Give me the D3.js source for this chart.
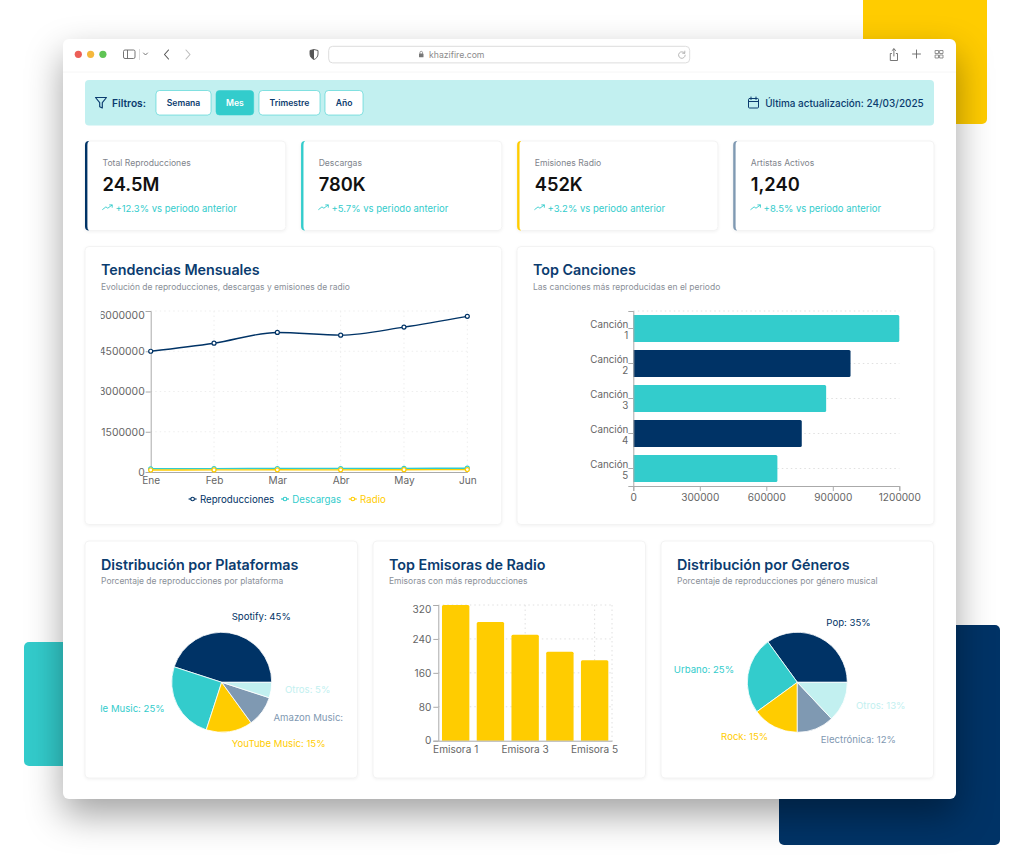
<!DOCTYPE html>
<html lang="es">
<head>
<meta charset="utf-8">
<title>Dashboard</title>
<script src="https://cdn.jsdelivr.net/npm/d3@7"></script>
<style>
  html, body { margin: 0; padding: 0; background: #fff; }
  svg { display: block; font-family: Inter, "Noto Sans", sans-serif; }
  .window { filter: drop-shadow(0 16px 18px rgba(0,0,0,.36)); }
  .panel { filter: drop-shadow(0 1px 1.5px rgba(0,0,0,.05)); }
  .title { font-size: 14.3px; font-weight: 600; fill: #0b3c6f; }
  .sub { font-size: 8.5px; fill: #8a8f98; }
  .axis text { font-size: 10.1px; fill: #666; font-family: Inter, sans-serif; }
  .axis path, .axis line { stroke: #aaa; }
  .grid line { stroke: #e0e0e0; stroke-dasharray: 1.5 3; }
  .grid.faint line { stroke: #eeeeee; }
</style>
</head>
<body>
<div id="chart"></div>
<script>
// palette
const navy = '#003366'
const teal = '#33cccc'
const yellow = '#ffcc00'
const pale = '#c2f0f0'
const slate = '#7f99b2'

// filter bar
const filterLabels = ['Semana', 'Mes', 'Trimestre', 'Año']
const activeFilter = 'Mes'
const updatedLabel = 'Última actualización: 24/03/2025'

// kpi cards
const kpiLabels = ['Total Reproducciones', 'Descargas', 'Emisiones Radio', 'Artistas Activos']
const kpiValues = ['24.5M', '780K', '452K', '1,240']
const kpiChanges = ['+12.3%', '+5.7%', '+3.2%', '+8.5%']
const kpiColors = [navy, teal, yellow, slate]

// monthly trends
const months = ['Ene', 'Feb', 'Mar', 'Abr', 'May', 'Jun']
const reproducciones = [4500000, 4800000, 5200000, 5100000, 5400000, 5800000]
const descargas = [120000, 125000, 130000, 128000, 135000, 142000]
const radio = [75000, 78000, 82000, 80000, 85000, 90000]
const trendTicks = [0, 1500000, 3000000, 4500000, 6000000]

// top songs
const songs = ['Canción 1', 'Canción 2', 'Canción 3', 'Canción 4', 'Canción 5']
const songPlays = [1200000, 980000, 870000, 760000, 650000]
const songTicks = [0, 300000, 600000, 900000, 1200000]

// platforms
const platforms = ['Spotify', 'Apple Music', 'YouTube Music', 'Amazon Music', 'Otros']
const platformShare = [45, 25, 15, 10, 5]

// radio stations
const stations = ['Emisora 1', 'Emisora 2', 'Emisora 3', 'Emisora 4', 'Emisora 5']
const stationPlays = [320, 280, 250, 210, 190]
const stationTicks = [0, 80, 160, 240, 320]
const stationLabels = ['Emisora 1', 'Emisora 3', 'Emisora 5']

// genres
const genres = ['Pop', 'Urbano', 'Rock', 'Electrónica', 'Otros']
const genreShare = [35, 25, 15, 12, 13]

const sliceColors = [navy, teal, yellow, slate, pale]

const svg = d3.select('#chart').append('svg')
  .attr('width', 1024)
  .attr('height', 861)

const defs = svg.append('defs')

function clip (id, x, y, w, h) {
  defs.append('clipPath').attr('id', id)
    .append('rect').attr('x', x).attr('y', y).attr('width', w).attr('height', h)
}

function text (parent, x, y, str, size, fill, weight) {
  return parent.append('text')
    .attr('x', x).attr('y', y)
    .attr('font-size', size)
    .attr('fill', fill)
    .attr('font-weight', weight || 400)
    .text(str)
}

function icon (parent, x, y, scale, d, color, width) {
  parent.append('path')
    .attr('transform', 'translate(' + x + ',' + y + ') scale(' + scale + ')')
    .attr('d', d)
    .attr('fill', 'none')
    .attr('stroke', color)
    .attr('stroke-width', width)
    .attr('stroke-linecap', 'round')
    .attr('stroke-linejoin', 'round')
}

// Backdrop blocks behind the window
svg.append('rect').attr('x', 863).attr('y', -10).attr('width', 124).attr('height', 134).attr('rx', 5).attr('fill', yellow)
svg.append('rect').attr('x', 24).attr('y', 642).attr('width', 124).attr('height', 124).attr('rx', 5).attr('fill', teal)
svg.append('rect').attr('x', 779).attr('y', 625).attr('width', 221).attr('height', 220).attr('rx', 5).attr('fill', navy)

// Browser window
svg.append('rect').attr('class', 'window')
  .attr('x', 63).attr('y', 39).attr('width', 893).attr('height', 760).attr('rx', 6)
  .attr('fill', '#fff')

const bar = svg.append('g')
bar.append('line').attr('x1', 63).attr('x2', 956).attr('y1', 72).attr('y2', 72).attr('stroke', '#f6f6f6')
;['#ec5f57', '#f5b83d', '#5fc454'].forEach((c, i) => {
  bar.append('circle').attr('cx', 78.3 + i * 12.3).attr('cy', 54.3).attr('r', 3.6).attr('fill', c)
})
bar.append('rect').attr('x', 123.5).attr('y', 50).attr('width', 11.5).attr('height', 8.5).attr('rx', 1.5)
  .attr('fill', 'none').attr('stroke', '#666').attr('stroke-width', 0.9)
bar.append('line').attr('x1', 127.5).attr('x2', 127.5).attr('y1', 50).attr('y2', 58.5).attr('stroke', '#666').attr('stroke-width', 0.9)
bar.append('line').attr('x1', 139.5).attr('x2', 139.5).attr('y1', 49).attr('y2', 60).attr('stroke', '#ddd')
icon(bar, 143.5, 53, 1, 'M0 0L2 2L4 0', '#666', 0.9)
icon(bar, 164.5, 50, 1, 'M4 0L0 4.5L4 9', '#555', 1.1)
icon(bar, 186, 50, 1, 'M0 0L4 4.5L0 9', '#bbb', 1.1)
bar.append('path')
  .attr('d', 'M310 50.5L314 49.5L318 50.5V54C318 57 316 58.6 314 59.5C312 58.6 310 57 310 54Z')
  .attr('fill', '#fff').attr('stroke', '#555').attr('stroke-width', 0.9)
bar.append('path').attr('d', 'M314 49.5V59.5C312 58.6 310 57 310 54V50.5Z').attr('fill', '#555')
bar.append('rect').attr('x', 328.7).attr('y', 46.3).attr('width', 361).attr('height', 16.6).attr('rx', 4)
  .attr('fill', '#fff').attr('stroke', '#ddd')
bar.append('rect').attr('x', 419).attr('y', 53.5).attr('width', 4.5).attr('height', 3.8).attr('rx', 0.6).attr('fill', '#777')
icon(bar, 420, 51, 1, 'M0 2.5V1.2C0 0 2.5 0 2.5 1.2V2.5', '#777', 0.7)
text(bar, 429, 57.6, 'khazifire.com', 8.7, '#8b8b8b')
icon(bar, 678, 50.5, 1, 'M6.5 2.5A3.3 3.3 0 1 0 7.2 4.7M6.8 0.6V2.8H4.7', '#999', 0.7)
icon(bar, 889.5, 48, 1, 'M2 5.5H0.8V12.5H8V5.5H6.8M4.4 8V0.8M2.6 2.5L4.4 0.8L6.2 2.5', '#666', 0.9)
icon(bar, 912.5, 50, 1, 'M4 0V8M0 4H8', '#666', 0.9)
icon(bar, 935, 50, 1, 'M0.5 0.5H3.5V3.5H0.5ZM5 0.5H8V3.5H5ZM0.5 5H3.5V8H0.5ZM5 5H8V8H5Z', '#777', 0.8)

// Filter strip
const strip = svg.append('g')
strip.append('rect').attr('x', 85).attr('y', 80).attr('width', 849).attr('height', 45.5).attr('rx', 4).attr('fill', pale)
icon(strip, 95, 97, 1, 'M0.5 0.5H11.5L7.3 5.6V11L4.7 9.7V5.6Z', '#0b3c6f', 1.15)
text(strip, 112, 106.7, 'Filtros:', 10.2, '#0b3c6f', 600)

const filterX = d3.scaleOrdinal().domain(filterLabels).range([156, 216, 259, 325])
const filterW = d3.scaleOrdinal().domain(filterLabels).range([55, 37.7, 61, 38])
const buttons = strip.selectAll('g.filter').data(filterLabels).join('g')
  .attr('class', 'filter')
  .attr('transform', d => 'translate(' + filterX(d) + ',90.5)')
buttons.append('rect')
  .attr('width', d => filterW(d))
  .attr('height', 24.5)
  .attr('rx', 3.5)
  .attr('fill', d => d === activeFilter ? teal : '#fff')
  .attr('stroke', teal)
  .attr('stroke-opacity', 0.55)
buttons.append('text')
  .attr('x', d => filterW(d) / 2)
  .attr('y', 15.8)
  .attr('text-anchor', 'middle')
  .attr('font-size', 8.6)
  .attr('font-weight', 600)
  .attr('fill', d => d === activeFilter ? '#fff' : '#0b3c6f')
  .text(d => d)

icon(strip, 748, 97, 1, 'M1.5 1.5H9.5A1 1 0 0 1 10.5 2.5V10A1 1 0 0 1 9.5 11H1.5A1 1 0 0 1 0.5 10V2.5A1 1 0 0 1 1.5 1.5ZM0.5 4.5H10.5M3 0V2.5M8 0V2.5', '#0b3c6f', 1)
strip.append('text').attr('x', 923.7).attr('y', 106.7).attr('text-anchor', 'end')
  .attr('font-size', 9.93).attr('font-weight', 500).attr('fill', '#0b3c6f').text(updatedLabel)

// KPI cards
const kpiX = d3.scalePoint().domain(kpiLabels).range([85, 733.2])
const cards = svg.selectAll('g.kpi').data(kpiLabels).join('g')
  .attr('class', 'kpi')
  .attr('transform', d => 'translate(' + kpiX(d) + ',141)')
cards.append('rect').attr('class', 'panel')
  .attr('width', 200.8).attr('height', 89.5).attr('rx', 4).attr('fill', '#fff').attr('stroke', '#f3f3f3')
cards.append('path')
  .attr('d', 'M4 0A4 4 0 0 0 0 4V85.5A4 4 0 0 0 4 89.5A3 4 0 0 1 2.4 85.5V4A3 4 0 0 1 4 0Z')
  .attr('fill', (d, i) => kpiColors[i])
cards.append('text').attr('x', 17.6).attr('y', 24.6).attr('font-size', 8.6).attr('fill', '#80848c').text(d => d)
cards.append('text').attr('x', 17.6).attr('y', 50).attr('font-size', 18.3).attr('font-weight', 600).attr('fill', '#111')
  .text((d, i) => kpiValues[i])
cards.each(function () {
  icon(d3.select(this), 17.6, 63.5, 1, 'M0 5L3.3 2.4L5.2 3.7L9.4 0.6M7 0.4H9.6V2.8', teal, 0.9)
})
cards.append('text').attr('x', 30.4).attr('y', 70.7).attr('font-size', 9.5).attr('fill', teal)
  .text((d, i) => kpiChanges[i] + ' vs periodo anterior')

function panel (x, y, w, h, title, sub) {
  const g = svg.append('g')
  g.append('rect').attr('class', 'panel')
    .attr('x', x).attr('y', y).attr('width', w).attr('height', h).attr('rx', 4)
    .attr('fill', '#fff').attr('stroke', '#f3f3f3')
  g.append('text').attr('class', 'title').attr('x', x + 16).attr('y', y + 28.5).text(title)
  g.append('text').attr('class', 'sub').attr('x', x + 16).attr('y', y + 43).text(sub)
  return g
}

// Monthly trends
function trendChart () {
  const g = panel(85, 246.5, 416.7, 278, 'Tendencias Mensuales', 'Evolución de reproducciones, descargas y emisiones de radio')
  // the original cuts the first digit of the longest tick label
  clip('clip-trend', 100.8, 300, 400, 200)
  const plot = g.append('g').attr('clip-path', 'url(#clip-trend)')

  const x = d3.scalePoint().domain(months).range([150.7, 467.3])
  const y = d3.scaleLinear().domain([0, 6000000]).range([472, 311])

  const grid = plot.append('g').attr('class', 'grid faint')
  grid.selectAll('.h').data(trendTicks.slice(1)).join('line').attr('class', 'h')
    .attr('x1', 150.7).attr('x2', 467.3).attr('y1', d => y(d)).attr('y2', d => y(d))
  grid.selectAll('.v').data(months.slice(1)).join('line').attr('class', 'v')
    .attr('x1', d => x(d)).attr('x2', d => x(d)).attr('y1', 311).attr('y2', 472)

  const ya = plot.append('g').attr('class', 'axis')
    .attr('transform', 'translate(150.7,0)')
    .call(d3.axisLeft(y).tickValues(trendTicks).tickSize(5).tickPadding(1).tickFormat(d3.format('d')))
  ya.selectAll('.tick text').style('font-size', '10.4px')
  ya.selectAll('.tick').filter(d => d === 6000000).select('text').attr('dy', '.72em')

  const xa = plot.append('g').attr('class', 'axis')
    .attr('transform', 'translate(0,472)')
    .call(d3.axisBottom(x).tickSize(0).tickPadding(5))
  xa.selectAll('text').attr('dy', '.71em')

  const line = d3.line()
    .x((d, i) => x(months[i]))
    .y(d => y(d))
    .curve(d3.curveMonotoneX)

  const series = [
    { values: reproducciones, color: navy },
    { values: descargas, color: teal },
    { values: radio, color: yellow }
  ]
  series.forEach(s => {
    plot.append('path').datum(s.values)
      .attr('d', line).attr('fill', 'none').attr('stroke', s.color).attr('stroke-width', 1.4)
    plot.selectAll(null).data(s.values).join('circle')
      .attr('cx', (d, i) => x(months[i]))
      .attr('cy', d => y(d))
      .attr('r', 2)
      .attr('fill', '#fff')
      .attr('stroke', s.color)
      .attr('stroke-width', 1.2)
  })

  const legend = g.append('g')
  const legendX = [192.6, 285, 352.8]
  ;['Reproducciones', 'Descargas', 'Radio'].forEach((name, i) => {
    legend.append('line').attr('x1', legendX[i] - 4).attr('x2', legendX[i] + 4).attr('y1', 499).attr('y2', 499)
      .attr('stroke', series[i].color).attr('stroke-width', 1.2)
    legend.append('circle').attr('cx', legendX[i]).attr('cy', 499).attr('r', 1.8)
      .attr('fill', '#fff').attr('stroke', series[i].color).attr('stroke-width', 1.1)
    text(legend, legendX[i] + 7.3, 502.5, name, 9.7, series[i].color)
  })
}

// Top songs
function songChart () {
  const g = panel(517, 246.5, 417, 278, 'Top Canciones', 'Las canciones más reproducidas en el periodo')

  const x = d3.scaleLinear().domain([0, 1200000]).range([633.3, 899.3])
  const y = d3.scaleBand().domain(songs).range([311, 486]).paddingInner(0.228).paddingOuter(0.114)

  const grid = g.append('g').attr('class', 'grid')
  grid.append('line').attr('x1', 633.3).attr('x2', 899.3).attr('y1', 311).attr('y2', 311)
  grid.selectAll('.h').data(songs).join('line').attr('class', 'h')
    .attr('x1', 633.3).attr('x2', 899.3)
    .attr('y1', d => y(d) + y.bandwidth() / 2)
    .attr('y2', d => y(d) + y.bandwidth() / 2)

  g.selectAll('.bar').data(songPlays).join('path').attr('class', 'bar')
    .attr('d', (d, i) => {
      const x0 = x(0)
      const x1 = x(d)
      const y0 = y(songs[i])
      const h = y.bandwidth()
      return 'M' + x0 + ',' + y0 + 'H' + (x1 - 1.5) + 'Q' + x1 + ',' + y0 + ' ' + x1 + ',' + (y0 + 1.5) +
        'V' + (y0 + h - 1.5) + 'Q' + x1 + ',' + (y0 + h) + ' ' + (x1 - 1.5) + ',' + (y0 + h) + 'H' + x0 + 'Z'
    })
    .attr('fill', (d, i) => i % 2 ? navy : teal)

  const ya = g.append('g').attr('class', 'axis')
    .attr('transform', 'translate(633.3,0)')
    .call(d3.axisLeft(y).tickSize(5).tickPadding(0))
  ya.selectAll('.tick text').each(function (d) {
    const parts = d.split(' ')
    const t = d3.select(this).text(null).attr('dy', null).style('font-size', '9.8px')
    t.append('tspan').attr('x', -5).attr('y', -0.8).text(parts[0])
    t.append('tspan').attr('x', -5).attr('y', 10).text(parts[1])
  })

  g.append('g').attr('class', 'axis')
    .attr('transform', 'translate(0,486)')
    .call(d3.axisBottom(x).tickValues(songTicks).tickSize(5).tickPadding(3).tickFormat(d3.format('d')))
}

// Pie with labels hanging off the rim, clipped by the card like the original
function pieChart (x0, w, title, sub, names, shares, cx, cy, clipLeft) {
  const g = panel(x0, 541, w, 237, title, sub)
  const id = 'clip-' + x0
  clip(id, clipLeft, 590, 243, 180)
  const plot = g.append('g').attr('clip-path', 'url(#clip-' + x0 + ')')
  const pie = d3.pie().sort(null).startAngle(Math.PI / 2).endAngle(Math.PI / 2 - 2 * Math.PI)
  const arcs = pie(shares)
  const arc = d3.arc().innerRadius(0).outerRadius(50)
  const labelArc = d3.arc().innerRadius(64).outerRadius(64)
  const inner = plot.append('g').attr('transform', 'translate(' + cx + ',' + cy + ')')
  inner.selectAll('path').data(arcs).join('path')
    .attr('d', arc)
    .attr('fill', (d, i) => sliceColors[i])
    .attr('stroke', '#fff')
    .attr('stroke-width', 0.8)
  inner.selectAll('text').data(arcs).join('text')
    .attr('x', d => labelArc.centroid(d)[0])
    .attr('y', d => labelArc.centroid(d)[1] + 1)
    .attr('text-anchor', d => labelArc.centroid(d)[0] > 0 ? 'start' : 'end')
    .attr('font-size', 9.6)
    .attr('fill', (d, i) => sliceColors[i])
    .text((d, i) => names[i] + ': ' + shares[i] + '%')
}

// Radio stations
function stationChart () {
  const g = panel(373, 541, 272.5, 237, 'Top Emisoras de Radio', 'Emisoras con más reproducciones')

  const x = d3.scaleBand().domain(stations).range([438.3, 612]).paddingInner(0.212).paddingOuter(0.106)
  const y = d3.scaleLinear().domain([0, 320]).range([740.7, 605])

  const grid = g.append('g').attr('class', 'grid')
  grid.selectAll('.h').data(stationTicks.slice(1)).join('line').attr('class', 'h')
    .attr('x1', 438.3).attr('x2', 612).attr('y1', d => y(d)).attr('y2', d => y(d))
  grid.selectAll('.v').data(stationLabels).join('line').attr('class', 'v')
    .attr('x1', d => x(d) + x.bandwidth() / 2).attr('x2', d => x(d) + x.bandwidth() / 2)
    .attr('y1', 605).attr('y2', 740.7)
  grid.append('line').attr('x1', 612).attr('x2', 612).attr('y1', 605).attr('y2', 740.7)

  g.selectAll('.bar').data(stationPlays).join('path').attr('class', 'bar')
    .attr('d', (d, i) => {
      const x0 = x(stations[i])
      const x1 = x0 + x.bandwidth()
      const y0 = y(d)
      return 'M' + x0 + ',' + y(0) + 'V' + (y0 + 1.5) + 'Q' + x0 + ',' + y0 + ' ' + (x0 + 1.5) + ',' + y0 +
        'H' + (x1 - 1.5) + 'Q' + x1 + ',' + y0 + ' ' + x1 + ',' + (y0 + 1.5) + 'V' + y(0) + 'Z'
    })
    .attr('fill', yellow)

  const ya = g.append('g').attr('class', 'axis')
    .attr('transform', 'translate(438.3,0)')
    .call(d3.axisLeft(y).tickValues(stationTicks).tickSize(5).tickPadding(2).tickFormat(d3.format('d')))
  ya.selectAll('.tick').filter(d => d === 320).select('text').attr('dy', '.72em')

  g.append('g').attr('class', 'axis')
    .attr('transform', 'translate(0,740.7)')
    .call(d3.axisBottom(x).tickValues(stationLabels).tickSize(0).tickPadding(5))
}

trendChart()
songChart()
pieChart(85, 272.5, 'Distribución por Plataformas', 'Porcentaje de reproducciones por plataforma', platforms, platformShare, 221.7, 682.3, 100.5)
stationChart()
pieChart(661, 272.5, 'Distribución por Géneros', 'Porcentaje de reproducciones por género musical', genres, genreShare, 797.3, 682.3, 670)
</script>
</body>
</html>
